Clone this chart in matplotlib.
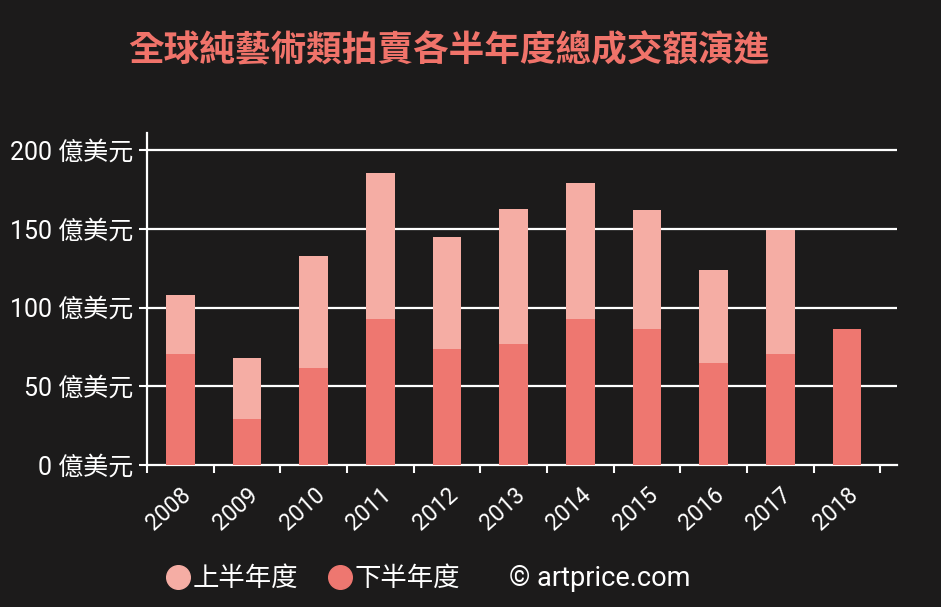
import matplotlib.pyplot as plt
from matplotlib.lines import Line2D

years = ['2008', '2009', '2010', '2011', '2012', '2013', '2014', '2015', '2016', '2017', '2018']
# bottom (darker) segment and top (lighter) segment, in 億美元
lower_part = [70.3, 29.2, 61.6, 92.7, 73.5, 76.6, 92.7, 86.2, 64.8, 70.3, 86.2]
upper_part = [37.6, 38.9, 71.1, 92.9, 71.1, 86.1, 86.2, 75.5, 59.0, 78.7, 0.0]
yticks = [0, 50, 100, 150, 200]

BG = '#1c1b1b'
LIGHT = '#f5ada4'
DARK = '#ee7770'
TITLE = '#f0736a'
FONT = ['Roboto', 'Noto Sans CJK TC', 'DejaVu Sans']

plt.rcParams['font.family'] = FONT

fig = plt.figure(figsize=(9.41, 6.07), dpi=100, facecolor=BG)
ax = fig.add_axes([0.1562, 0.2339, 0.797, 0.547])
ax.set_facecolor(BG)

x = list(range(len(years)))
ax.bar(x, lower_part, width=0.43, color=DARK, zorder=3)
ax.bar(x, upper_part, width=0.43, bottom=lower_part, color=LIGHT, zorder=3)

ax.set_xlim(-0.5, 10.75)
ax.set_ylim(0, 210.8)

ax.set_yticks(yticks)
ax.set_yticklabels([f'{v} 億美元' for v in yticks], color='white', fontsize=18)
for v in yticks[1:]:
    ax.axhline(v, color='white', lw=1.6, zorder=1)

ax.set_xticks(x)
ax.set_xticklabels(years, rotation=42, ha='right', rotation_mode='anchor',
                   color='white', fontsize=16.5)
ax.set_xticks([i - 0.5 for i in range(len(years) + 1)], minor=True)
ax.tick_params(axis='x', which='major', length=0, pad=13)
ax.tick_params(axis='x', which='minor', length=6, width=1.5, color='white')
ax.tick_params(axis='y', length=6, width=1.5, color='white', pad=4)

for side in ['top', 'right']:
    ax.spines[side].set_visible(False)
for side in ['left', 'bottom']:
    ax.spines[side].set_color('white')
    ax.spines[side].set_linewidth(1.6)

fig.text(0.4765, 0.915, '全球純藝術類拍賣各半年度總成交額演進', color=TITLE,
         fontsize=25.7, fontweight='bold', ha='center', va='center')

handles = [
    Line2D([], [], marker='o', ls='none', markersize=17, color=LIGHT),
    Line2D([], [], marker='o', ls='none', markersize=17, color=DARK),
]
leg = fig.legend(handles, ['上半年度', '下半年度'], loc='center left',
                 bbox_to_anchor=(0.15, 0.047), ncol=2, frameon=False,
                 fontsize=19, handletextpad=0.05, columnspacing=1.1,
                 handlelength=1.0)
for t in leg.get_texts():
    t.set_color('white')

fig.text(0.541, 0.047, '© artprice.com', color='white', fontsize=19.5,
         ha='left', va='center')

fig.savefig('out.png', dpi=100, facecolor=BG)
